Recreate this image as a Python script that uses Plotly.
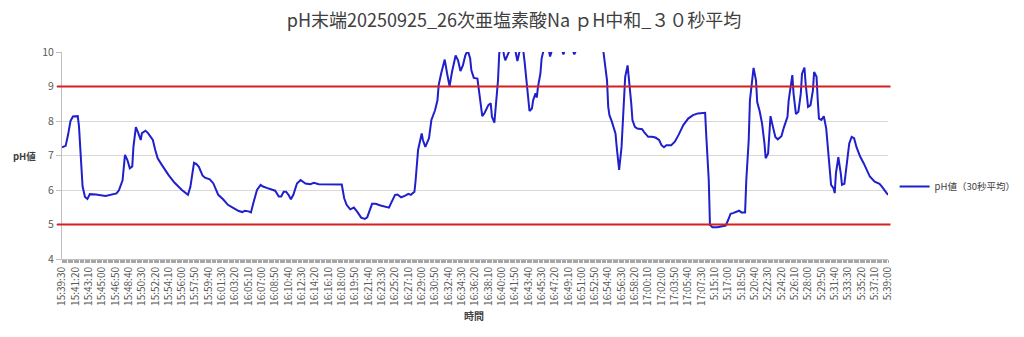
import plotly.graph_objects as go

TITLE = "pH末端20250925_26次亜塩素酸Na ｐH中和_３０秒平均"
SERIES_NAME = "pH値（30秒平均）"
Y_TITLE = "pH値"
X_TITLE = "時間"

TICK_LABELS = [
    "15:39:30", "15:41:20", "15:43:10", "15:45:00", "15:46:50", "15:48:40", "15:50:30",
    "15:52:20", "15:54:10", "15:56:00", "15:57:50", "15:59:40", "16:01:30", "16:03:20",
    "16:05:10", "16:07:00", "16:08:50", "16:10:40", "16:12:30", "16:14:20", "16:16:10",
    "16:18:00", "16:19:50", "16:21:40", "16:23:30", "16:25:20", "16:27:10", "16:29:00",
    "16:30:50", "16:32:40", "16:34:30", "16:36:20", "16:38:10", "16:40:00", "16:41:50",
    "16:43:40", "16:45:30", "16:47:20", "16:49:10", "16:51:00", "16:52:50", "16:54:40",
    "16:56:30", "16:58:20", "17:00:10", "17:02:00", "17:03:50", "17:05:40", "17:07:30",
    "5:15:10", "5:17:00", "5:18:50", "5:20:40", "5:22:30", "5:24:20", "5:26:10",
    "5:28:00", "5:29:50", "5:31:40", "5:33:30", "5:35:20", "5:37:10", "5:39:00",
]

# recorded segments: (start time, number of 10-second rows)
SEGMENTS = [((15, 39, 30), 529), ((5, 13, 30), 154)]

PH_TIMES = [
    "15:39:30", "15:40:00", "15:40:20", "15:40:40", "15:41:00", "15:41:40", "15:41:50", "15:42:00",
    "15:42:20", "15:42:40", "15:43:00", "15:43:20", "15:44:10", "15:45:30", "15:46:20", "15:47:00",
    "15:47:20", "15:47:50", "15:48:10", "15:48:30", "15:48:50", "15:49:10", "15:49:20", "15:49:40",
    "15:50:00", "15:50:20", "15:50:30", "15:51:00", "15:51:20", "15:52:00", "15:52:20", "15:52:40",
    "15:53:10", "15:54:10", "15:55:00", "15:56:00", "15:56:50", "15:57:10", "15:57:40", "15:58:00",
    "15:58:20", "15:58:50", "15:59:10", "15:59:50", "16:00:20", "16:01:00", "16:01:40", "16:02:20",
    "16:03:10", "16:03:50", "16:04:20", "16:04:40", "16:05:10", "16:05:30", "16:05:50", "16:06:20",
    "16:06:50", "16:07:10", "16:07:40", "16:08:10", "16:08:50", "16:09:20", "16:09:40", "16:10:00",
    "16:10:20", "16:10:40", "16:11:00", "16:11:20", "16:11:50", "16:12:20", "16:13:00", "16:13:40",
    "16:14:10", "16:14:50", "16:15:30", "16:16:20", "16:18:00", "16:18:20", "16:18:40", "16:19:10",
    "16:19:40", "16:20:10", "16:20:40", "16:21:10", "16:21:30", "16:22:10", "16:22:40", "16:23:20",
    "16:24:00", "16:24:30", "16:24:50", "16:25:20", "16:25:40", "16:26:10", "16:26:40", "16:27:10",
    "16:27:30", "16:28:00", "16:28:10", "16:28:30", "16:29:00", "16:29:10", "16:29:30", "16:30:00",
    "16:30:20", "16:30:50", "16:31:10", "16:31:20", "16:31:40", "16:32:00", "16:32:10", "16:32:30",
    "16:32:50", "16:33:10", "16:33:40", "16:34:00", "16:34:20", "16:34:40", "16:35:00", "16:35:20",
    "16:35:40", "16:35:50", "16:36:10", "16:36:40", "16:37:00", "16:37:20", "16:37:40", "16:38:10",
    "16:38:30", "16:38:40", "16:39:00", "16:39:10", "16:39:30", "16:39:40", "16:40:00", "16:40:20",
    "16:40:30", "16:41:00", "16:41:20", "16:41:50", "16:42:10", "16:42:30", "16:42:50", "16:43:10",
    "16:43:30", "16:43:40", "16:43:50", "16:44:10", "16:44:20", "16:44:40", "16:44:50", "16:45:00",
    "16:45:20", "16:45:30", "16:45:50", "16:46:10", "16:46:40", "16:47:00", "16:47:50", "16:48:30",
    "16:49:10", "16:50:00", "16:51:00", "16:52:20", "16:53:50", "16:54:00", "16:54:10", "16:54:30",
    "16:54:40", "16:54:50", "16:55:10", "16:55:40", "16:55:50", "16:56:00", "16:56:10", "16:56:30",
    "16:56:50", "16:57:00", "16:57:20", "16:57:30", "16:57:50", "16:58:00", "16:58:20", "16:58:40",
    "16:59:20", "16:59:40", "17:00:10", "17:00:40", "17:01:10", "17:01:40", "17:02:00", "17:02:20",
    "17:02:40", "17:03:20", "17:03:50", "17:04:20", "17:05:00", "17:05:40", "17:06:20", "17:07:00",
    "5:13:50", "5:14:00", "5:14:20", "5:14:30", "5:14:50", "5:15:30", "5:16:00", "5:16:40",
    "5:17:00", "5:17:20", "5:17:40", "5:18:10", "5:18:30", "5:18:50", "5:19:20", "5:19:30",
    "5:19:50", "5:20:00", "5:20:20", "5:20:30", "5:20:50", "5:21:00", "5:21:20", "5:21:40",
    "5:22:00", "5:22:10", "5:22:30", "5:22:40", "5:22:50", "5:23:10", "5:23:30", "5:23:50",
    "5:24:20", "5:24:40", "5:25:10", "5:25:20", "5:25:40", "5:25:50", "5:26:00", "5:26:20",
    "5:26:40", "5:27:00", "5:27:10", "5:27:30", "5:27:40", "5:28:00", "5:28:20", "5:28:40",
    "5:28:50", "5:29:10", "5:29:20", "5:29:30", "5:29:50", "5:30:10", "5:30:30", "5:30:50",
    "5:31:10", "5:31:30", "5:31:40", "5:31:50", "5:32:10", "5:32:30", "5:32:40", "5:33:00",
    "5:33:20", "5:33:40", "5:34:00", "5:34:20", "5:34:40", "5:35:10", "5:35:40", "5:36:10",
    "5:36:30", "5:37:10", "5:37:50", "5:38:10", "5:38:30", "5:39:00",
]

PH_VALUES = [
    7.24, 7.28, 7.60, 8.00, 8.13, 8.14, 7.85, 7.30,
    6.10, 5.80, 5.74, 5.88, 5.87, 5.83, 5.86, 5.90,
    5.99, 6.28, 7.02, 6.87, 6.63, 6.68, 7.26, 7.82,
    7.65, 7.45, 7.65, 7.72, 7.65, 7.45, 7.16, 6.92,
    6.75, 6.43, 6.21, 6.00, 5.86, 6.09, 6.79, 6.75,
    6.67, 6.42, 6.36, 6.31, 6.19, 5.86, 5.73, 5.57,
    5.47, 5.39, 5.36, 5.40, 5.38, 5.35, 5.62, 6.00,
    6.15, 6.10, 6.06, 6.02, 5.98, 5.81, 5.81, 5.95,
    5.95, 5.86, 5.73, 5.86, 6.19, 6.29, 6.19, 6.17,
    6.21, 6.17, 6.17, 6.16, 6.16, 5.76, 5.57, 5.44,
    5.49, 5.36, 5.20, 5.16, 5.21, 5.60, 5.60, 5.55,
    5.52, 5.49, 5.64, 5.86, 5.87, 5.79, 5.83, 5.89,
    5.86, 5.95, 6.29, 7.16, 7.64, 7.45, 7.25, 7.50,
    8.03, 8.31, 8.60, 9.04, 9.37, 9.71, 9.78, 9.37,
    9.01, 9.42, 9.90, 9.76, 9.45, 9.61, 9.90, 10.05,
    9.81, 9.47, 9.25, 9.23, 8.75, 8.14, 8.24, 8.46,
    8.51, 8.12, 7.95, 8.41, 9.18, 9.95, 10.30, 9.90,
    9.76, 10.00, 10.30, 10.10, 9.74, 10.05, 10.30, 9.70,
    9.08, 8.60, 8.29, 8.36, 8.60, 8.80, 8.68, 8.99,
    9.37, 9.81, 10.20, 10.40, 9.87, 10.10, 10.40, 9.93,
    10.40, 9.93, 10.40, 10.50, 10.30, 10.00, 9.66, 9.18,
    8.41, 8.17, 7.98, 7.64, 7.25, 6.87, 6.58, 7.25,
    8.41, 9.28, 9.61, 9.28, 8.51, 8.03, 7.83, 7.78,
    7.76, 7.66, 7.54, 7.54, 7.52, 7.45, 7.30, 7.24,
    7.30, 7.30, 7.40, 7.59, 7.88, 8.07, 8.17, 8.22,
    8.24, 7.54, 6.29, 4.99, 4.92, 4.92, 4.94, 4.97,
    5.13, 5.31, 5.33, 5.38, 5.40, 5.35, 5.35, 6.29,
    7.45, 8.60, 9.28, 9.54, 9.18, 8.55, 8.29, 7.93,
    7.35, 6.92, 7.06, 7.74, 8.14, 7.83, 7.54, 7.47,
    7.56, 7.81, 8.12, 8.60, 9.08, 9.33, 8.80, 8.20,
    8.27, 8.80, 9.37, 9.55, 9.08, 8.41, 8.46, 8.89,
    9.42, 9.28, 8.60, 8.07, 8.03, 8.14, 7.78, 6.97,
    6.15, 6.05, 5.91, 6.48, 6.95, 6.48, 6.15, 6.18,
    6.87, 7.35, 7.54, 7.50, 7.24, 6.97, 6.77, 6.56,
    6.39, 6.24, 6.18, 6.10, 6.00, 5.86,
]

LIMITS = [9, 5]
Y_TICKS = [4, 5, 6, 7, 8, 9, 10]


def build_categories(segments):
    cats = []
    for (h, m, s), n in segments:
        t = h * 3600 + m * 60 + s
        for k in range(n):
            v = t + 10 * k
            cats.append(f"{v // 3600}:{(v % 3600) // 60:02d}:{v % 60:02d}")
    return cats


CATEGORIES = build_categories(SEGMENTS)
tick_set = set(TICK_LABELS)
tick_text = [c if c in tick_set else "" for c in CATEGORIES]

FONT = "Noto Sans CJK JP, Noto Sans, sans-serif"

fig = go.Figure()
fig.add_trace(go.Scatter(
    x=PH_TIMES, y=PH_VALUES, mode="lines", name=SERIES_NAME,
    line=dict(color="#1f1fcc", width=2),
))

for lim in LIMITS:
    fig.add_shape(type="line", xref="paper", yref="y", x0=-0.006, x1=1.003,
                  y0=lim, y1=lim, line=dict(color="#d42020", width=2), layer="above")

fig.update_layout(
    width=1024, height=337,
    margin=dict(l=62, r=136, t=52, b=78, autoexpand=False),
    paper_bgcolor="white", plot_bgcolor="white",
    font=dict(family=FONT, color="#595959", size=10),
    title=dict(text=TITLE, x=0.502, xanchor="center", y=0.94, yanchor="middle",
               font=dict(family=FONT, size=18, color="#404040")),
    showlegend=True,
    legend=dict(x=1.008, xanchor="left", y=0.35, yanchor="middle",
                font=dict(family=FONT, size=9.5, color="#404040"),
                itemwidth=30, bgcolor="rgba(0,0,0,0)"),
    xaxis=dict(
        type="category", categoryorder="array", categoryarray=CATEGORIES,
        range=[0, len(CATEGORIES) - 1],
        tickmode="array", tickvals=CATEGORIES, ticktext=tick_text,
        tickangle=-90, ticks="outside", ticklen=3, tickcolor="#a6a6a6", tickwidth=1,
        showgrid=False, showline=True, linecolor="#bfbfbf", linewidth=1,
        tickfont=dict(family=FONT, size=10, color="#595959"),
        zeroline=False,
    ),
    yaxis=dict(
        range=[4, 10], tickmode="array", tickvals=Y_TICKS,
        ticks="outside", ticklen=5, tickcolor="#bfbfbf",
        showgrid=True, gridcolor="#d9d9d9", gridwidth=1,
        showline=True, linecolor="#bfbfbf", linewidth=1,
        tickfont=dict(family=FONT, size=10.5, color="#595959"),
        zeroline=False,
    ),
    annotations=[
        dict(text="<b>" + Y_TITLE + "</b>", xref="paper", yref="paper", x=-0.029, y=0.5,
             xanchor="right", yanchor="middle", showarrow=False,
             font=dict(family=FONT, size=9.5, color="#404040")),
        dict(text="<b>" + X_TITLE + "</b>", xref="paper", yref="paper", x=0.499, y=-0.275,
             xanchor="center", yanchor="middle", showarrow=False,
             font=dict(family=FONT, size=10, color="#404040")),
    ],
)

fig.write_html("out.html")
